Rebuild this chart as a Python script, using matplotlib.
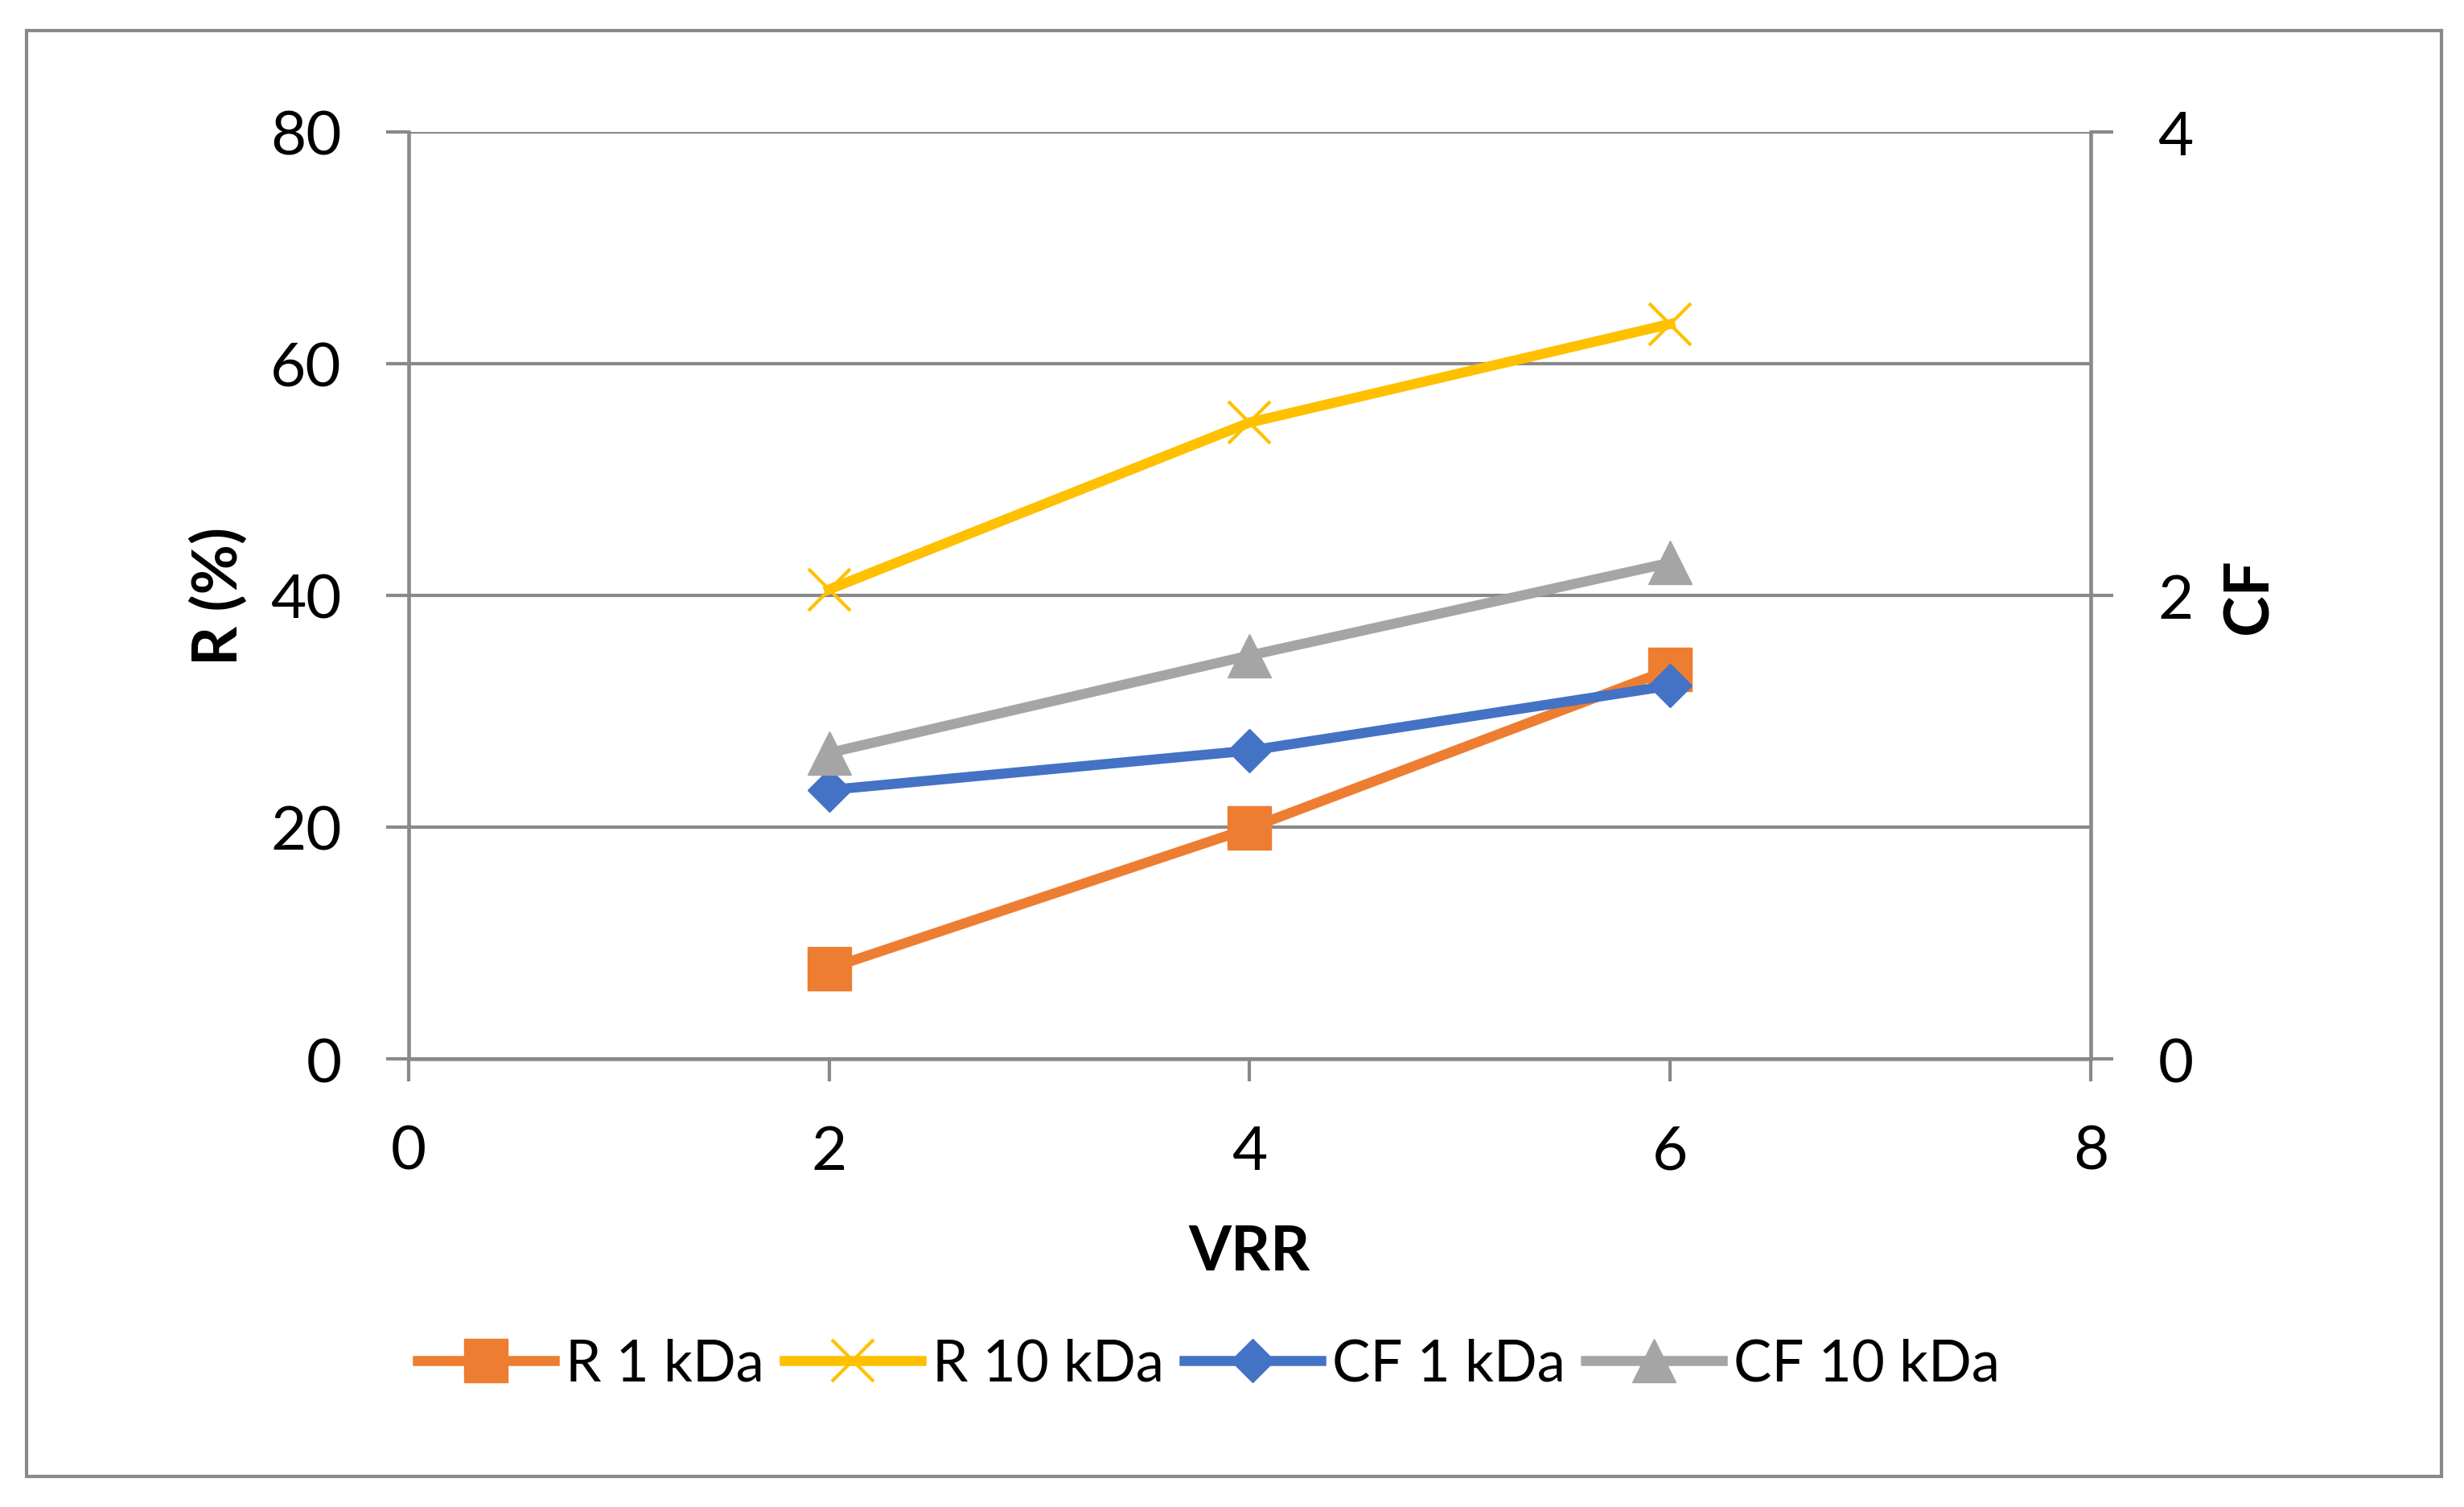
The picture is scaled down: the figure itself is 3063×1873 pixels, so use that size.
import numpy as np
import matplotlib.pyplot as plt
from matplotlib.patches import Rectangle

plt.rcParams['font.family'] = ['Lato', 'DejaVu Sans']

vrr = [2, 4, 6]                          # volume reduction ratio
r_1kda = [7.8, 19.9, 33.6]               # retention R (%) for 1 kDa membrane
r_10kda = [40.5, 54.9, 63.4]             # retention R (%) for 10 kDa membrane
cf_1kda = [1.16, 1.33, 1.61]             # concentration factor, 1 kDa
cf_10kda = [1.32, 1.74, 2.14]            # concentration factor, 10 kDa

grid_col = '#898989'
fs = 55

fig = plt.figure(figsize=(30.63, 18.74), dpi=100)
ax = fig.add_axes([0.1658, 0.2972, 0.8485 - 0.1658, 0.9122 - 0.2972])
ax2 = ax.twinx()

# frame around the whole chart
fig.patches.append(Rectangle((0.0108, 0.0203), 0.980, 0.959, transform=fig.transFigure,
                             fill=False, edgecolor=grid_col, linewidth=3))

lw = 9
l1, = ax.plot(vrr, r_1kda, color='#ED7D31', lw=lw, marker='s', ms=39, label='R 1 kDa')
l2, = ax.plot(vrr, r_10kda, color='#FFC000', lw=lw, marker='x', ms=37, mew=3, label='R 10 kDa')
l3, = ax2.plot(vrr, cf_1kda, color='#4472C4', lw=lw, marker='D', ms=28, label='CF 1 kDa')
l4, = ax2.plot(vrr, cf_10kda, color='#A5A5A5', lw=lw, marker='^', ms=39, label='CF 10 kDa')
for l in (l1, l2, l3, l4):
    l.set_clip_on(False)

ax.set_xlim(0, 8)
ax.set_ylim(0, 80)
ax2.set_ylim(0, 4)
ax.set_xticks([0, 2, 4, 6, 8])
ax.set_yticks([0, 20, 40, 60, 80])
ax2.set_yticks([0, 2, 4])

ax.grid(axis='y', color=grid_col, lw=3)
ax.set_axisbelow(True)

for a in (ax, ax2):
    for s in a.spines.values():
        s.set_visible(False)
ax.spines['left'].set_visible(True)
ax.spines['bottom'].set_visible(True)
ax2.spines['right'].set_visible(True)
for s in (ax.spines['left'], ax.spines['bottom'], ax2.spines['right']):
    s.set_color(grid_col)
    s.set_linewidth(3.3)

ax.tick_params(axis='both', length=20, width=3, color=grid_col, labelsize=fs, pad=40)
ax.tick_params(axis='x', pad=38)
ax2.tick_params(axis='y', length=20, width=3, color=grid_col, labelsize=fs, pad=40)

ax.set_xlabel('VRR', fontsize=fs, fontweight='bold', labelpad=40)
ax.set_ylabel('R (%)', fontsize=fs, fontweight='bold', labelpad=20)
ax2.set_ylabel('CF', fontsize=fs, fontweight='bold', labelpad=25)

fig.legend(handles=[l1, l2, l3, l4], loc='center', bbox_to_anchor=(0.4905, 0.095), ncol=4,
           frameon=False, fontsize=51, handlelength=2.4, handletextpad=0.2,
           columnspacing=0.35)

fig.savefig('out.png', dpi=100)
